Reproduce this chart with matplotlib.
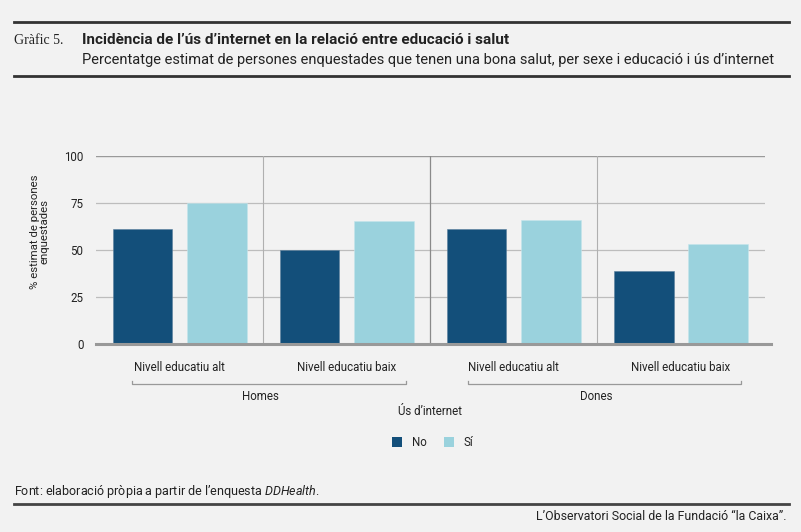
import matplotlib.pyplot as plt
import numpy as np
from matplotlib.patches import Patch

# data
groups = ['Nivell educatiu alt', 'Nivell educatiu baix', 'Nivell educatiu alt', 'Nivell educatiu baix']
sexes = ['Homes', 'Dones']
no_vals = [61.2, 50.0, 61.3, 39.0]
si_vals = [75.0, 65.6, 66.1, 53.2]
yticks = [0, 25, 50, 75, 100]

bg = '#f2f2f2'
c_no = '#134f7a'
c_si = '#9ad2dd'
txt = '#222222'

plt.rcParams['font.family'] = ['Roboto', 'DejaVu Sans']
plt.rcParams['mathtext.fontset'] = 'custom'
plt.rcParams['mathtext.it'] = 'Roboto:italic'
plt.rcParams['mathtext.rm'] = 'Roboto'

fig = plt.figure(figsize=(8.01, 5.32), dpi=100, facecolor=bg)
ax = fig.add_axes([0.1199, 0.3528, 0.8347, 0.354])
ax.set_facecolor(bg)

x = np.arange(len(groups))
w = 0.356
off = 0.2225
ax.bar(x - off, no_vals, w, color=c_no, edgecolor='#5a7f9c', linewidth=0.4, zorder=3)
ax.bar(x + off, si_vals, w, color=c_si, edgecolor='#c4e6ec', linewidth=0.4, zorder=3)

ax.set_xlim(-0.5, 3.5)
ax.set_ylim(0, 100)
ax.set_yticks(yticks)
ax.set_yticklabels([str(v) for v in yticks], fontsize=8.3, color=txt)
ax.tick_params(axis='y', length=0, pad=9)
ax.set_xticks(x)
ax.set_xticklabels(groups, fontsize=8.3, color=txt)
ax.tick_params(axis='x', length=0, pad=12)
for s in ax.spines.values():
    s.set_visible(False)

# horizontal gridlines
for v in yticks[1:-1]:
    ax.axhline(v, color='#bdbdbd', lw=0.9, zorder=1)
ax.axhline(100, color='#9a9a9a', lw=1.0, zorder=1)
ax.plot([-0.5, 3.54], [0, 0], color='#999999', lw=2.2, clip_on=False, zorder=4)

# vertical separators
ax.axvline(0.5, color='#b0b0b0', lw=0.8, zorder=1)
ax.axvline(2.5, color='#b0b0b0', lw=0.8, zorder=1)
ax.axvline(1.5, color='#8a8a8a', lw=0.9, zorder=1)

fig.text(40 / 801, 1 - 232 / 532, '% estimat de persones\nenquestades', rotation=90,
         fontsize=8.2, color=txt, linespacing=1.0, ha='center', va='center', multialignment='center')

# group brackets for sexes
tr = ax.get_xaxis_transform()
brackets = [(-0.285, 1.354), (1.725, 3.358)]
for (a, b), name in zip(brackets, sexes):
    ax.plot([a, a, b, b], [-0.195, -0.21, -0.21, -0.195], color='#999999', lw=0.9,
            transform=tr, clip_on=False)
    ax.text((a + b) / 2 - 0.05, -0.275, name, transform=tr, ha='center', va='center',
            fontsize=8.3, color=txt)
ax.text(0.5, -0.355, 'Ús d’internet', transform=ax.transAxes, ha='center', va='center',
        fontsize=8.3, color=txt)

handles = [Patch(facecolor=c_no, label='No'), Patch(facecolor=c_si, label='Sí')]
fig.legend(handles=handles, loc='center', bbox_to_anchor=(0.54, 0.168), ncol=2,
           frameon=False, fontsize=8.3, handlelength=0.9, handleheight=0.9,
           columnspacing=1.5, handletextpad=0.8, labelcolor=txt)

# header
fig.add_artist(plt.Line2D([14 / 801, 789 / 801], [1 - 22 / 532] * 2, color='#333333', lw=2.0))
fig.add_artist(plt.Line2D([14 / 801, 789 / 801], [1 - 76 / 532] * 2, color='#333333', lw=2.0))
fig.text(14 / 801, 1 - 40 / 532, 'Gràfic 5.', fontsize=10, color=txt, va='center',
         family=['Liberation Serif', 'DejaVu Serif'])
fig.text(82 / 801, 1 - 40 / 532, 'Incidència de l’ús d’internet en la relació entre educació i salut',
         fontsize=11, fontweight='bold', color=txt, va='center')
fig.text(82 / 801, 1 - 60 / 532,
         'Percentatge estimat de persones enquestades que tenen una bona salut, per sexe i educació i ús d’internet',
         fontsize=10.5, color=txt, va='center')

# footer
fig.text(14 / 801, 1 - 491 / 532, 'Font: elaboració pròpia a partir de l’enquesta $\\it{DDHealth}$.',
         fontsize=9, color=txt, va='center')
fig.add_artist(plt.Line2D([14 / 801, 789 / 801], [1 - 504 / 532] * 2, color='#444444', lw=2.0))
fig.text(787 / 801, 1 - 516 / 532, 'L’Observatori Social de la Fundació “la Caixa”.',
         fontsize=8.9, color=txt, va='center', ha='right')

fig.savefig('out.png', dpi=100, facecolor=bg)
